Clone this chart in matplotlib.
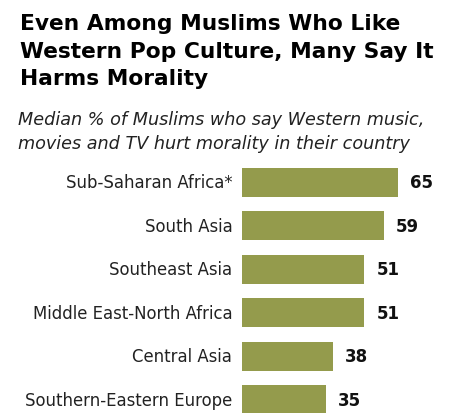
import matplotlib
matplotlib.use("Agg")
import matplotlib.pyplot as plt

categories = ["Sub-Saharan Africa*", "South Asia", "Southeast Asia",
              "Middle East-North Africa", "Central Asia", "Southern-Eastern Europe"]
values = [65, 59, 51, 51, 38, 35]

W, H = 454, 414
fig = plt.figure(figsize=(W/100, H/100), dpi=100)
fig.patch.set_facecolor("white")

ax_left, ax_right = 242, 454
ax_top, ax_bot = 160, 414
ax = fig.add_axes([ax_left/W, 1-ax_bot/H, (ax_right-ax_left)/W, (ax_bot-ax_top)/H])
ypos = list(range(len(categories)))
ax.barh(ypos, values, height=0.667, color="#949B4C", edgecolor="none")
ax.set_xlim(0, (ax_right-ax_left)/2.4)
ax.set_ylim(5.30, -0.54)
for s in ax.spines.values():
    s.set_visible(False)
ax.set_xticks([])
ax.set_yticks(ypos)
ax.set_yticklabels(categories, fontsize=11.9, color="#222222", va="center")
ax.tick_params(axis="y", length=0, pad=7)
for y, v in zip(ypos, values):
    ax.text(v + 5, y, str(v), va="center", ha="left", fontsize=12,
            fontweight="bold", color="#111111")

fig.text(20/W, 1-14/H, "Even Among Muslims Who Like\nWestern Pop Culture, Many Say It\nHarms Morality",
         ha="left", va="top", fontsize=15.7, fontweight="bold", color="#000000",
         linespacing=1.48)
fig.text(18/W, 1-111/H, "Median % of Muslims who say Western music,\nmovies and TV hurt morality in their country",
         ha="left", va="top", fontsize=12.7, style="italic", color="#222222",
         linespacing=1.4)

fig.savefig("out.png", dpi=100)
